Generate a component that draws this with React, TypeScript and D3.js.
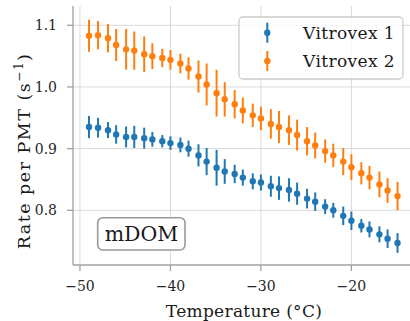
import React from 'react'
import * as d3 from 'd3'

// temperature bins (°C)
const temps = [
  -49.0, -48.0, -46.9, -46.0, -44.9, -44.0, -42.9, -42.0, -40.9, -40.0, -38.9, -38.0, -36.9, -36.0,
  -34.9, -34.0, -32.9, -32.0, -30.9, -30.0, -28.9, -28.0, -26.9, -26.0, -24.9, -24.0, -22.9, -22.0,
  -20.9, -20.0, -18.9, -18.0, -16.9, -16.0, -14.9,
]

const vitrovex1 = [
  0.935, 0.934, 0.93, 0.923, 0.919, 0.919, 0.917, 0.915, 0.912, 0.909, 0.906, 0.9, 0.889, 0.879,
  0.869, 0.863, 0.859, 0.853, 0.847, 0.845, 0.839, 0.836, 0.833, 0.827, 0.819, 0.814, 0.806, 0.8,
  0.791, 0.783, 0.775, 0.769, 0.761, 0.754, 0.747,
]
const vitrovex1Err = [
  0.018, 0.016, 0.013, 0.015, 0.017, 0.018, 0.017, 0.012, 0.01, 0.011, 0.012, 0.013, 0.018, 0.022,
  0.029, 0.02, 0.015, 0.013, 0.013, 0.013, 0.017, 0.019, 0.019, 0.018, 0.016, 0.015, 0.012, 0.012,
  0.015, 0.015, 0.011, 0.013, 0.013, 0.015, 0.016,
]

const vitrovex2 = [
  1.083, 1.084, 1.079, 1.068, 1.061, 1.059, 1.053, 1.05, 1.047, 1.044, 1.038, 1.03, 1.017, 1.004,
  0.99, 0.98, 0.972, 0.962, 0.954, 0.949, 0.94, 0.935, 0.93, 0.922, 0.912, 0.905, 0.896, 0.889,
  0.879, 0.87, 0.86, 0.853, 0.842, 0.832, 0.823,
]
const vitrovex2Err = [
  0.026, 0.023, 0.023, 0.026, 0.033, 0.031, 0.029, 0.021, 0.015, 0.016, 0.016, 0.018, 0.026, 0.034,
  0.038, 0.028, 0.023, 0.021, 0.019, 0.019, 0.024, 0.026, 0.024, 0.025, 0.023, 0.021, 0.019, 0.019,
  0.022, 0.021, 0.018, 0.019, 0.021, 0.02, 0.023,
]

const xTicks = [-50, -40, -30, -20]
const yTicks = [0.8, 0.9, 1.0, 1.1]

const seriesNames = ['Vitrovex 1', 'Vitrovex 2']
const seriesColors = ['#1f77b4', '#ff7f0e']

const W = 410
const H = 321
const FONT = '"DejaVu Serif", serif'

const left = 73
const right = 412
const top = 6
const bottom = 265

export default function App() {
  const x = d3.scaleLinear().domain([-50.77, -13.3]).range([left, right])
  const y = d3.scaleLinear().domain([0.7113, 1.1313]).range([bottom, top])

  const series = [
    { values: vitrovex1, errs: vitrovex1Err },
    { values: vitrovex2, errs: vitrovex2Err },
  ]

  const minus = (v: number) => (v < 0 ? '\u2212' + Math.abs(v) : String(v))

  return (
    <svg
      width={W}
      height={H}
      style={{ position: 'fixed', left: 0, top: 0, background: '#fff' }}
      fontFamily={FONT}
    >
      <defs>
        <clipPath id="plot">
          <rect x={left} y={top} width={right - left} height={bottom - top} />
        </clipPath>
      </defs>

      {/* grid */}
      <g stroke="#d9d9d9" strokeWidth={1}>
        {xTicks.map(t => (
          <line key={t} x1={x(t)} x2={x(t)} y1={top} y2={bottom} />
        ))}
        {yTicks.map(t => (
          <line key={t} x1={left} x2={right} y1={y(t)} y2={y(t)} />
        ))}
      </g>

      {/* spines */}
      <g stroke="#a0a0a0" strokeWidth={1.3}>
        <line x1={left} x2={left} y1={top} y2={bottom} />
        <line x1={left} x2={right} y1={bottom} y2={bottom} />
      </g>

      {/* x ticks */}
      {xTicks.map(t => (
        <g key={t}>
          <line x1={x(t)} x2={x(t)} y1={bottom} y2={bottom + 6} stroke="#a0a0a0" strokeWidth={1.3} />
          <text x={x(t)} y={291} textAnchor="middle" fontSize={14} fill="#262626">
            {minus(t)}
          </text>
        </g>
      ))}

      {/* y ticks */}
      {yTicks.map(t => (
        <g key={t}>
          <line x1={left - 6} x2={left} y1={y(t)} y2={y(t)} stroke="#a0a0a0" strokeWidth={1.3} />
          <text x={57} y={y(t) + 5} textAnchor="end" fontSize={14} fill="#262626">
            {t.toFixed(1)}
          </text>
        </g>
      ))}

      {/* data */}
      <g clipPath="url(#plot)">
        {series.map((s, si) => (
          <g key={si} fill={seriesColors[si]} stroke={seriesColors[si]}>
            {temps.map((t, i) => (
              <g key={i}>
                <line
                  x1={x(t)}
                  x2={x(t)}
                  y1={y(s.values[i] - s.errs[i])}
                  y2={y(s.values[i] + s.errs[i])}
                  strokeWidth={2}
                />
                <circle cx={x(t)} cy={y(s.values[i])} r={3.2} stroke="none" />
              </g>
            ))}
          </g>
        ))}
      </g>

      {/* legend */}
      <g>
        <rect
          x={239}
          y={17}
          width={164}
          height={62}
          rx={4}
          fill="#fff"
          fillOpacity={0.8}
          stroke="#cccccc"
          strokeWidth={1.3}
        />
        {seriesNames.map((name, i) => {
          const cy = 32.7 + i * 28.3
          return (
            <g key={name}>
              <line x1={267.3} x2={267.3} y1={cy - 10} y2={cy + 10} stroke={seriesColors[i]} strokeWidth={2} />
              <circle cx={267.3} cy={cy} r={3.2} fill={seriesColors[i]} />
              <text x={303} y={cy + 6} fontSize={17} letterSpacing={0.4} fill="#1a1a1a">
                {name}
              </text>
            </g>
          )
        })}
      </g>

      {/* mDOM box */}
      <rect x={97.7} y={217.7} width={87.3} height={32.3} rx={5} fill="#fff" stroke="#999" strokeWidth={1.6} />
      <text x={141.5} y={241} textAnchor="middle" fontSize={20.5} fill="#1a1a1a">
        mDOM
      </text>

      {/* axis labels */}
      <text x={244} y={317} textAnchor="middle" fontSize={17} letterSpacing={0.3} fill="#1a1a1a">
        Temperature (°C)
      </text>
      <text
        transform="translate(30,151) rotate(-90)"
        textAnchor="middle"
        fontSize={17.5}
        letterSpacing={1.5}
        fill="#1a1a1a"
      >
        Rate per PMT (s
        <tspan fontSize={12} dy={-7}>
          {'\u22121'}
        </tspan>
        <tspan dy={7}>)</tspan>
      </text>
    </svg>
  )
}
